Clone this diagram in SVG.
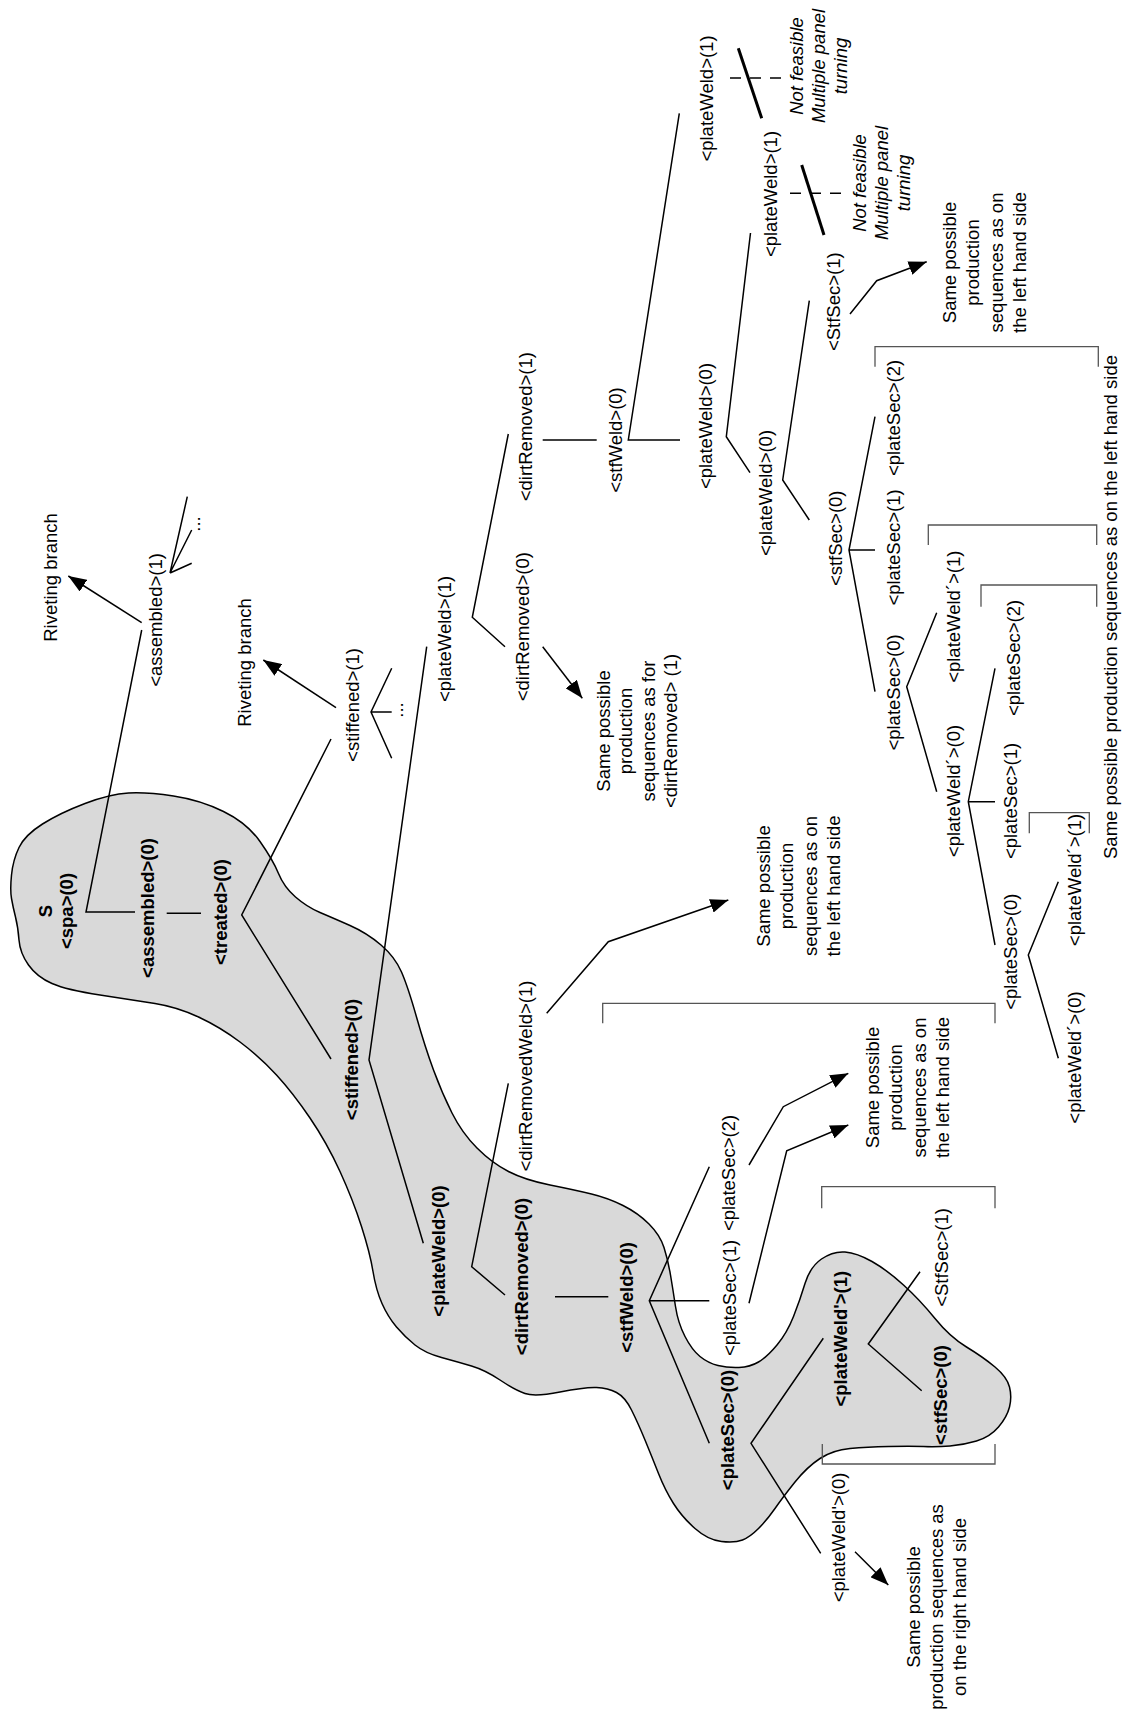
<svg xmlns="http://www.w3.org/2000/svg" width="1126" height="1713" viewBox="0 0 1126 1713">
<style>
.t{font-family:"Liberation Sans",Arial,Helvetica,sans-serif;font-size:18.5px;fill:#000;text-anchor:middle}
.b{font-weight:bold}
.i{font-style:italic}
.ln{stroke:#000;stroke-width:1.5;fill:none}
.tk{stroke:#000;stroke-width:3;fill:none}
.ds{stroke:#000;stroke-width:1.5;fill:none;stroke-dasharray:11 9}
.ar{stroke:#000;stroke-width:1.5;fill:none;marker-end:url(#ah)}
.br{stroke:#555;stroke-width:1.3;fill:none}
</style>
<defs>
<marker id="ah" markerUnits="userSpaceOnUse" markerWidth="20" markerHeight="14" refX="18" refY="7" orient="auto">
<path d="M0,0 L18,7 L0,14 z" fill="#000"/>
</marker>
</defs>
<rect width="1126" height="1713" fill="#fff"/>
<path id="blob" d="M11.5,875 Q13,860 19,847.5 Q25,835 42.5,824 Q60,813 85,803.5 Q110,794 128.5,793 Q147,792 173.5,796 Q200,800 223.5,811.5 Q247,823 260,841.5 Q273,860 278.5,873.5 Q284,887 295.5,897 Q307,907 320,912.5 Q333,918 350,925.5 Q367,933 381,945 Q395,957 401.5,972 Q408,987 416.5,1017 Q425,1047 433.5,1070 Q442,1093 452,1113 Q462,1133 477,1148 Q492,1163 508.5,1171.5 Q525,1180 550,1185 Q575,1190 591.5,1194 Q608,1198 623,1205.5 Q638,1213 649,1224 Q660,1235 664,1247.5 Q668,1260 670.5,1275 Q673,1290 675.5,1306.5 Q678,1323 685,1336.5 Q692,1350 700,1356.5 Q708,1363 718,1365.5 Q728,1368 739,1367.5 Q750,1367 758.5,1362 Q767,1357 777,1345 Q787,1333 793.5,1316.5 Q800,1300 805,1283.5 Q810,1267 821.5,1259 Q833,1251 845,1252 Q857,1253 872,1261.5 Q887,1270 903.5,1285 Q920,1300 935,1318.5 Q950,1337 966.5,1347 Q983,1357 995,1367 Q1007,1377 1009.5,1387 Q1012,1397 1009.5,1407 Q1007,1417 998.5,1427 Q990,1437 976.5,1441 Q963,1445 950,1446 Q937,1447 923.5,1446.5 Q910,1446 888.5,1446.5 Q867,1447 850,1448.5 Q833,1450 820,1458.5 Q807,1467 795,1482 Q783,1497 775,1508.5 Q767,1520 758.5,1528.5 Q750,1537 742.5,1540 Q735,1543 721.5,1541.5 Q708,1540 695,1528.5 Q682,1517 673.5,1503.5 Q665,1490 658.5,1473.5 Q652,1457 645,1440 Q638,1423 631.5,1410 Q625,1397 616.5,1392.5 Q608,1388 596.5,1387.5 Q585,1387 560,1392 Q535,1397 525,1393.5 Q515,1390 500,1380 Q485,1370 471.5,1366 Q458,1362 441.5,1357.5 Q425,1353 415,1345 Q405,1337 396.5,1327 Q388,1317 382,1303.5 Q376,1290 373,1271.5 Q370,1253 361.5,1226.5 Q353,1200 340,1171.5 Q327,1143 310,1118 Q293,1093 276.5,1075 Q260,1057 240,1042 Q220,1027 198.5,1017 Q177,1007 155,1003.5 Q133,1000 100,995 Q67,990 52,983.5 Q37,977 28.5,965 Q20,953 19,940 Q18,927 15.5,917 Q13,907 11.5,898.5 Q10,890 11.5,875 Z" fill="#d9d9d9" stroke="#000" stroke-width="1.5"/>

<g id="brackets">
<path class="br" d="M875,366.7 V346.7 H1098.3 V366.7"/>
<path class="br" d="M928.3,545 V525 H1096.7 V545"/>
<path class="br" d="M981,606.7 V585 H1096.7 V606.7"/>
<path class="br" d="M1029.3,833.3 V812.7 H1089.3 V833.3"/>
<path class="br" d="M602.7,1023.3 V1003.3 H995 V1023.3"/>
<path class="br" d="M821.7,1208.3 V1186.7 H995 V1208.3"/>
<path class="br" d="M822.3,1444 V1464 H995 V1444"/>
</g>

<g id="connectors">
<path class="ln" d="M135,912 H86 L141.7,630"/>
<path class="ln" d="M166.7,913.3 H201"/>
<path class="ln" d="M331,739 L241.7,915 L331,1059"/>
<path class="ln" d="M187.3,496.7 L170,573 L191.7,530 M170,573 L191.7,563.3"/>
<path class="ln" d="M391.7,668.3 L371,712 L391.7,758.3 M371,712 H391.7"/>
<path class="ln" d="M426.7,646.7 L369,1060 L423.3,1243.3"/>
<path class="ln" d="M508.3,434 L472.3,617.3 L505,646.7"/>
<path class="ln" d="M542.7,440 H596.7"/>
<path class="ln" d="M679.3,113.3 L628.3,440 H680"/>
<path class="ln" d="M750.5,233 L726.3,436.7 L750,472.7"/>
<path class="ln" d="M809.3,300.7 L782.7,480 L809.3,520"/>
<path class="ln" d="M875,416.7 L849,550 L875,691.7 M849,550 H875"/>
<path class="ln" d="M936.7,612.7 L906.7,686.7 L936.7,791.7"/>
<path class="ln" d="M995,668.3 L968.3,801.7 L995,945 M968.3,801.7 H995"/>
<path class="ln" d="M1058.3,881.7 L1028.3,955 L1058.3,1058.3"/>
<path class="ln" d="M508.3,1083.3 L471.7,1266.7 L505,1295"/>
<path class="ln" d="M555,1296.7 H608.3"/>
<path class="ln" d="M709.3,1166.7 L649.3,1300.7 L709.3,1443.3 M649.3,1300.7 H709.3"/>
<path class="ln" d="M823.3,1338.3 L751,1443.3 L820.7,1553.3"/>
<path class="ln" d="M920,1271.7 L868.3,1344 L921.7,1390.7"/>
<path class="ds" d="M730,78 H782"/>
<path class="tk" d="M738.3,48.3 L761.7,118.3"/>
<path class="ds" d="M790,193.3 H843"/>
<path class="tk" d="M801.7,165 L824,235"/>
<path class="ar" d="M141.7,622.7 L68.3,576"/>
<path class="ar" d="M336,707.7 L263.3,660"/>
<path class="ar" d="M542.7,646.7 L582.3,698.3"/>
<path class="ar" d="M546.7,1013.3 L608.3,941.7 L728.3,900"/>
<path class="ar" d="M749,1165 L783.3,1106.7 L848.3,1073.3"/>
<path class="ar" d="M749,1303.3 L786.7,1150.7 L848.3,1125"/>
<path class="ar" d="M850,314 L876.7,280.7 L926.7,261.7"/>
<path class="ar" d="M855,1551.7 L888.3,1585"/>
</g>

<g id="n-spa"><text class="t b" transform="translate(51.5,911) rotate(-90)"><tspan x="0" y="0">S</tspan><tspan x="0" dy="21.5">&lt;spa&gt;(0)</tspan></text></g>
<g id="n-assembled0"><text class="t b" transform="translate(154,908) rotate(-90)">&lt;assembled&gt;(0)</text></g>
<g id="n-treated0"><text class="t b" transform="translate(226.5,912) rotate(-90)">&lt;treated&gt;(0)</text></g>
<g id="n-assembled1"><text class="t" transform="translate(162.3,620) rotate(-90)">&lt;assembled&gt;(1)</text><text class="t" transform="translate(200,524) rotate(-90)">...</text></g>
<g id="n-riveting1"><text class="t" transform="translate(56.5,577.5) rotate(-90)">Riveting branch</text></g>
<g id="n-riveting2"><text class="t" transform="translate(250.5,662.5) rotate(-90)">Riveting branch</text></g>
<g id="n-stiffened1"><text class="t" transform="translate(359,705) rotate(-90)">&lt;stiffened&gt;(1)</text><text class="t" transform="translate(403,710) rotate(-90)">...</text></g>
<g id="n-stiffened0"><text class="t b" transform="translate(358,1059.5) rotate(-90)">&lt;stiffened&gt;(0)</text></g>
<g id="n-plateWeld1a"><text class="t" transform="translate(450.7,639) rotate(-90)">&lt;plateWeld&gt;(1)</text></g>
<g id="n-dirtRemoved0a"><text class="t" transform="translate(529,626.7) rotate(-90)">&lt;dirtRemoved&gt;(0)</text></g>
<g id="n-note-dirt"><text class="t" transform="translate(609.5,731) rotate(-90)"><tspan x="0" y="0">Same possible</tspan><tspan x="0" dy="22.6">production</tspan><tspan x="0" dy="22.6">sequences as for</tspan><tspan x="0" dy="22.6">&lt;dirtRemoved&gt; (1)</tspan></text></g>
<g id="n-dirtRemoved1"><text class="t" transform="translate(531.5,426.7) rotate(-90)">&lt;dirtRemoved&gt;(1)</text></g>
<g id="n-stfWeld0a"><text class="t" transform="translate(621.5,440) rotate(-90)">&lt;stfWeld&gt;(0)</text></g>
<g id="n-plateWeld1top"><text class="t" transform="translate(713,98.5) rotate(-90)">&lt;plateWeld&gt;(1)</text></g>
<g id="n-nf1"><text class="t i" transform="translate(802.5,66) rotate(-90)"><tspan x="0" y="0">Not feasible</tspan><tspan x="0" dy="22">Multiple panel</tspan><tspan x="0" dy="22">turning</tspan></text></g>
<g id="n-plateWeld0a"><text class="t" transform="translate(711.5,426) rotate(-90)">&lt;plateWeld&gt;(0)</text></g>
<g id="n-plateWeld1mid"><text class="t" transform="translate(776.5,194) rotate(-90)">&lt;plateWeld&gt;(1)</text></g>
<g id="n-nf2"><text class="t i" transform="translate(866,183) rotate(-90)"><tspan x="0" y="0">Not feasible</tspan><tspan x="0" dy="22">Multiple panel</tspan><tspan x="0" dy="22">turning</tspan></text></g>
<g id="n-plateWeld0b"><text class="t" transform="translate(771.5,493) rotate(-90)">&lt;plateWeld&gt;(0)</text></g>
<g id="n-StfSec1a"><text class="t" transform="translate(840,301.7) rotate(-90)">&lt;StfSec&gt;(1)</text></g>
<g id="n-note-upper"><text class="t" transform="translate(956,262.5) rotate(-90)"><tspan x="0" y="0">Same possible</tspan><tspan x="0" dy="23.4">production</tspan><tspan x="0" dy="23.4">sequences as on</tspan><tspan x="0" dy="23.4">the left hand side</tspan></text></g>
<g id="n-stfSec0a"><text class="t" transform="translate(841.5,538.3) rotate(-90)">&lt;stfSec&gt;(0)</text></g>
<g id="n-plateSec2a"><text class="t" transform="translate(900,418) rotate(-90)">&lt;plateSec&gt;(2)</text></g>
<g id="n-plateSec1a"><text class="t" transform="translate(900,547.5) rotate(-90)">&lt;plateSec&gt;(1)</text></g>
<g id="n-plateSec0a"><text class="t" transform="translate(900,692.5) rotate(-90)">&lt;plateSec&gt;(0)</text></g>
<g id="n-plateWeldp1a"><text class="t" transform="translate(960,616.7) rotate(-90)">&lt;plateWeld´&gt;(1)</text></g>
<g id="n-plateWeldp0a"><text class="t" transform="translate(960,791) rotate(-90)">&lt;plateWeld´&gt;(0)</text></g>
<g id="n-plateSec2b"><text class="t" transform="translate(1019.5,658) rotate(-90)">&lt;plateSec&gt;(2)</text></g>
<g id="n-plateSec1b"><text class="t" transform="translate(1017,801) rotate(-90)">&lt;plateSec&gt;(1)</text></g>
<g id="n-plateSec0b"><text class="t" transform="translate(1016.5,951.7) rotate(-90)">&lt;plateSec&gt;(0)</text></g>
<g id="n-plateWeldp1b"><text class="t" transform="translate(1080.5,880) rotate(-90)">&lt;plateWeld´&gt;(1)</text></g>
<g id="n-plateWeldp0b"><text class="t" transform="translate(1080.5,1057.5) rotate(-90)">&lt;plateWeld´&gt;(0)</text></g>
<g id="n-note-right"><text class="t" transform="translate(1116.5,607) rotate(-90)">Same possible production sequences as on the left hand side</text></g>
<g id="n-plateWeld0bold"><text class="t b" transform="translate(445,1251) rotate(-90)">&lt;plateWeld&gt;(0)</text></g>
<g id="n-dirtRemovedWeld1"><text class="t" transform="translate(532,1076) rotate(-90)">&lt;dirtRemovedWeld&gt;(1)</text></g>
<g id="n-note-drw"><text class="t" transform="translate(770,886) rotate(-90)"><tspan x="0" y="0">Same possible</tspan><tspan x="0" dy="23.3">production</tspan><tspan x="0" dy="23.3">sequences as on</tspan><tspan x="0" dy="23.3">the left hand side</tspan></text></g>
<g id="n-dirtRemoved0bold"><text class="t b" transform="translate(528,1276.5) rotate(-90)">&lt;dirtRemoved&gt;(0)</text></g>
<g id="n-stfWeld0bold"><text class="t b" transform="translate(633,1297.5) rotate(-90)">&lt;stfWeld&gt;(0)</text></g>
<g id="n-plateSec2c"><text class="t" transform="translate(735,1173) rotate(-90)">&lt;plateSec&gt;(2)</text></g>
<g id="n-plateSec1c"><text class="t" transform="translate(735.5,1298) rotate(-90)">&lt;plateSec&gt;(1)</text></g>
<g id="n-note-mid"><text class="t" transform="translate(879,1087.5) rotate(-90)"><tspan x="0" y="0">Same possible</tspan><tspan x="0" dy="23.3">production</tspan><tspan x="0" dy="23.3">sequences as on</tspan><tspan x="0" dy="23.3">the left hand side</tspan></text></g>
<g id="n-plateSec0bold"><text class="t b" transform="translate(734,1430) rotate(-90)">&lt;plateSec&gt;(0)</text></g>
<g id="n-plateWeldp1bold"><text class="t b" transform="translate(846.5,1338.7) rotate(-90)">&lt;plateWeld'&gt;(1)</text></g>
<g id="n-StfSec1b"><text class="t" transform="translate(948,1257.5) rotate(-90)">&lt;StfSec&gt;(1)</text></g>
<g id="n-stfSec0bold"><text class="t b" transform="translate(946.5,1395) rotate(-90)">&lt;stfSec&gt;(0)</text></g>
<g id="n-plateWeldp0c"><text class="t" transform="translate(845,1537.5) rotate(-90)">&lt;plateWeld'&gt;(0)</text></g>
<g id="n-note-bottom"><text class="t" transform="translate(920,1607) rotate(-90)"><tspan x="0" y="0">Same possible</tspan><tspan x="0" dy="23">production sequences as</tspan><tspan x="0" dy="23">on the right hand side</tspan></text></g>
</svg>
